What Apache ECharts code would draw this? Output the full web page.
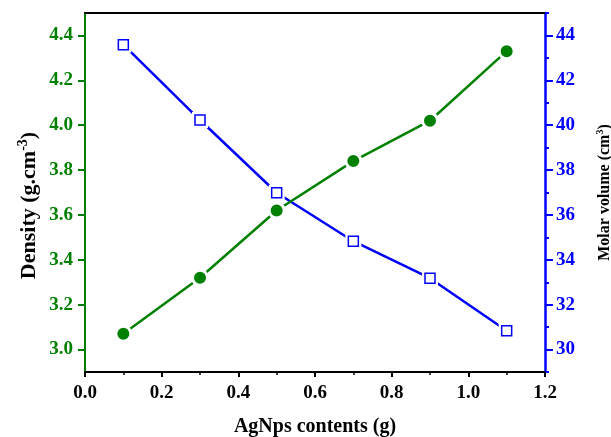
<!DOCTYPE html>
<html>
<head>
<meta charset="utf-8">
<script src="https://cdn.jsdelivr.net/npm/echarts@6/dist/echarts.min.js"></script>
<style>
  html, body { margin: 0; padding: 0; background: #fff; }
  #chart { width: 611px; height: 437px; }
</style>
</head>
<body>
<div id="chart"></div>
<script>
// data
const contents = [0.1, 0.3, 0.5, 0.7, 0.9, 1.1];
const density = [3.07, 3.32, 3.62, 3.84, 4.02, 4.33];
const molarVolume = [43.59, 40.23, 36.99, 34.83, 33.18, 30.84];

const GREEN = '#008000';
const BLUE = '#0000ff';
const FONT = '"Liberation Serif", "Times New Roman", serif';

const densityPts = contents.map((x, i) => [x, density[i]]);
const volumePts = contents.map((x, i) => [x, molarVolume[i]]);

// plot frame; the labelled grid is the same frame trimmed by one minor step (0.1 / 1 unit) top and bottom
const TOP = 13, BOTTOM = 65;
const step = (437 - TOP - BOTTOM) / 16;
const plotRect = { left: 85, right: 66, top: TOP, bottom: BOTTOM, containLabel: false, outerBoundsMode: 'none' };
const tickRect = { left: 85, right: 66, top: TOP + step, bottom: BOTTOM + step, containLabel: false, outerBoundsMode: 'none' };

function titleRich(size) {
  return {
    a: { fontFamily: FONT, fontWeight: 'bold', fontSize: size, color: '#000' },
    s: { fontFamily: FONT, fontWeight: 'bold', fontSize: Math.round(size * 0.62), color: '#000',
      verticalAlign: 'top', padding: [0, 0, Math.round(size * 0.6), 0] }
  };
}

let chart = echarts.init(document.getElementById('chart'));
chart.setOption({
  animation: false,
  grid: [plotRect, tickRect],
  xAxis: [
    {
      type: 'value', gridIndex: 0, min: 0, max: 1.2, interval: 0.2,
      name: 'AgNps contents (g)', nameLocation: 'middle', nameGap: 45,
      nameTextStyle: { fontFamily: FONT, fontWeight: 'bold', fontSize: 20, color: '#000' },
      axisLine: { onZero: false, lineStyle: { color: '#000', width: 2 } },
      axisTick: { inside: false, length: 5, lineStyle: { color: '#000', width: 2 } },
      minorTick: { show: true, splitNumber: 2, length: 3, lineStyle: { color: '#000', width: 1.5 } },
      axisLabel: { fontFamily: FONT, fontWeight: 'bold', fontSize: 19, color: '#000', margin: 12,
        formatter: v => v.toFixed(1) },
      splitLine: { show: false }
    },
    {
      // top frame line
      type: 'value', gridIndex: 0, position: 'top', min: 0, max: 1.2,
      axisLine: { onZero: false, lineStyle: { color: '#000', width: 2 } },
      axisTick: { show: false }, axisLabel: { show: false }, splitLine: { show: false }
    },
    {
      type: 'value', gridIndex: 1, min: 0, max: 1.2, show: false,
      axisLine: { onZero: false }
    }
  ],
  yAxis: [
    {
      type: 'value', gridIndex: 0, min: 2.9, max: 4.5, position: 'left',
      name: '{a|Density (g.cm}{s|-3}{a|)}', nameLocation: 'middle', nameGap: 42, nameRotate: 90,
      nameTextStyle: { rich: titleRich(22), padding: [0, 26, 0, 0] },
      axisLine: { show: true, onZero: false, lineStyle: { color: GREEN, width: 2 } },
      axisTick: { show: false }, axisLabel: { show: false },
      splitLine: { show: false }
    },
    {
      type: 'value', gridIndex: 0, min: 29, max: 45, interval: 1, position: 'right',
      name: '{a|Molar volume (cm}{s|3}{a|)}', nameLocation: 'middle', nameGap: 50, nameRotate: 90,
      nameTextStyle: { rich: titleRich(16) },
      axisLine: { show: true, onZero: false, lineStyle: { color: BLUE, width: 2.5 } },
      axisTick: { show: true, inside: false, length: 4, lineStyle: { color: BLUE, width: 2 } },
      axisLabel: { show: false },
      splitLine: { show: false }
    },
    {
      // labelled density ticks 3.0 .. 4.4
      type: 'value', gridIndex: 1, min: 3.0, max: 4.4, interval: 0.2, position: 'left',
      axisLine: { show: false, onZero: false },
      axisTick: { show: true, inside: false, length: 7, lineStyle: { color: GREEN, width: 2 } },
      axisLabel: { fontFamily: FONT, fontWeight: 'bold', fontSize: 19, color: GREEN, margin: 12,
        formatter: v => v.toFixed(1) },
      splitLine: { show: false }
    },
    {
      // labelled molar volume ticks 30 .. 44
      type: 'value', gridIndex: 1, min: 30, max: 44, interval: 2, position: 'right',
      axisLine: { show: false, onZero: false },
      axisTick: { show: true, inside: false, length: 8, lineStyle: { color: BLUE, width: 2 } },
      axisLabel: { fontFamily: FONT, fontWeight: 'bold', fontSize: 19, color: BLUE, margin: 11 },
      splitLine: { show: false }
    }
  ],
  series: [
    {
      name: 'Molar volume', type: 'line', xAxisIndex: 0, yAxisIndex: 1, data: volumePts,
      showSymbol: false, z: 2,
      lineStyle: { color: BLUE, width: 2.5 }
    },
    {
      // white halo around squares
      type: 'scatter', xAxisIndex: 0, yAxisIndex: 1, data: volumePts, z: 3,
      symbol: 'rect', symbolSize: 16, itemStyle: { color: '#fff', opacity: 1 }
    },
    {
      type: 'scatter', xAxisIndex: 0, yAxisIndex: 1, data: volumePts, z: 4,
      symbol: 'rect', symbolSize: 10, itemStyle: { color: '#fff', borderColor: BLUE, borderWidth: 1.5, opacity: 1 }
    },
    {
      name: 'Density', type: 'line', xAxisIndex: 0, yAxisIndex: 0, data: densityPts, z: 5,
      symbol: 'circle', symbolSize: 15,
      lineStyle: { color: GREEN, width: 2.5 },
      itemStyle: { color: GREEN, borderColor: '#fff', borderWidth: 3 }
    }
  ]
});
</script>
</body>
</html>
